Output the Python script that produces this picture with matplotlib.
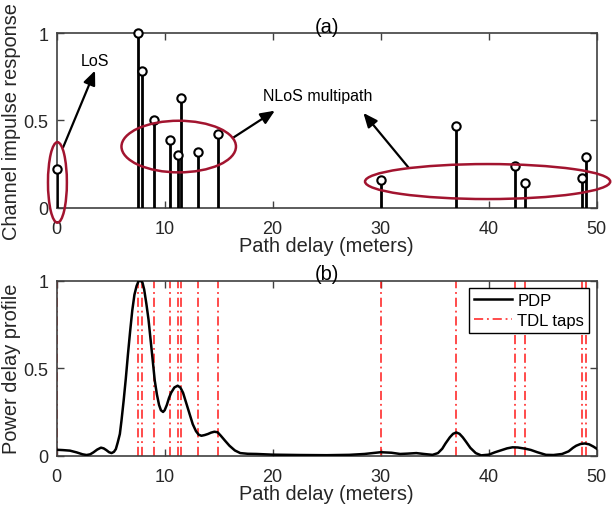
import numpy as np
import matplotlib
matplotlib.use("Agg")
import matplotlib.pyplot as plt
from matplotlib.patches import Ellipse

plt.rcParams['font.family'] = ['Liberation Sans', 'DejaVu Sans']
plt.rcParams['font.size'] = 13

# ---- data ----
tap_delay = [0.0, 7.5, 7.9, 9.05, 10.5, 11.2, 11.5, 13.1, 14.9,
             30.0, 37.0, 42.4, 43.4, 48.6, 49.0]
tap_amp = [0.22, 1.0, 0.78, 0.50, 0.39, 0.30, 0.63, 0.32, 0.42,
           0.16, 0.47, 0.24, 0.145, 0.17, 0.29]

pdp_delay = [0.0, 0.6, 1.23, 1.85, 2.4, 2.77, 3.1, 3.4, 3.75, 4.1, 4.35, 4.6, 4.85, 5.08,
             5.3, 5.48, 5.65, 5.85, 6.0, 6.2, 6.4, 6.6, 6.8, 7.0, 7.2, 7.4, 7.6, 7.8, 7.94,
             8.1, 8.3, 8.5, 8.7, 8.9, 9.08, 9.28, 9.48, 9.65, 9.85, 10.0, 10.2, 10.4, 10.6,
             10.9, 11.2, 11.45, 11.7, 12.0, 12.3, 12.6, 12.9, 13.15, 13.4, 13.7, 14.0, 14.3,
             14.6, 14.9, 15.2, 15.6, 16.0, 16.5, 17.0, 17.7, 18.5, 20.0, 22.5, 25.0, 27.1,
             28.5, 30.0, 31.0, 31.8, 32.5, 33.3, 34.0, 34.8, 35.3, 35.7, 36.0, 36.4, 36.7,
             37.0, 37.3, 37.6, 37.9, 38.3, 38.8, 39.3, 40.0, 40.6, 41.2, 41.7, 42.2, 42.7,
             43.1, 43.4, 43.9, 44.5, 45.3, 46.0, 46.8, 47.4, 47.8, 48.1, 48.5, 48.9, 49.3,
             49.7, 50.0]
pdp_val = [0.034, 0.032, 0.029, 0.019, 0.008, 0.004, 0.008, 0.019, 0.035, 0.046, 0.042,
           0.032, 0.020, 0.015, 0.022, 0.038, 0.075, 0.124, 0.20, 0.314, 0.44, 0.58, 0.71,
           0.83, 0.92, 0.97, 1.0, 0.998, 0.99, 0.95, 0.87, 0.78, 0.66, 0.54, 0.43, 0.35,
           0.29, 0.26, 0.25, 0.26, 0.29, 0.33, 0.36, 0.39, 0.40, 0.39, 0.36, 0.30, 0.24,
           0.18, 0.14, 0.12, 0.114, 0.118, 0.124, 0.132, 0.137, 0.134, 0.114, 0.085, 0.057,
           0.03, 0.015, 0.011, 0.010, 0.006, 0.004, 0.003, 0.005, 0.010, 0.020, 0.017,
           0.010, 0.012, 0.015, 0.010, 0.005, 0.015, 0.040, 0.070, 0.105, 0.125, 0.133,
           0.125, 0.105, 0.080, 0.045, 0.015, 0.002, 0.006, 0.020, 0.032, 0.042, 0.048,
           0.047, 0.043, 0.040, 0.033, 0.020, 0.005, 0.004, 0.010, 0.025, 0.045, 0.057,
           0.067, 0.070, 0.065, 0.052, 0.040]

xticks = [0, 10, 20, 30, 40, 50]
yticks = [0, 0.5, 1]
ytick_labels = ['0', '0.5', '1']

# ---- figure ----
fig = plt.figure(figsize=(6.12, 5.06), dpi=100)
ax1 = fig.add_axes([0.0926, 0.587, 0.8824, 0.3458])
ax2 = fig.add_axes([0.0926, 0.0974, 0.8824, 0.3459])

spine_c = '#404040'
text_c = '#262626'
ellipse_c = '#A2142F'
LABEL_FS = 14.4


def style(ax):
    ax.set_xlim(0, 50)
    ax.set_ylim(0, 1)
    ax.set_xticks(xticks)
    ax.set_yticks(yticks)
    ax.set_yticklabels(ytick_labels)
    ax.tick_params(direction='in', top=True, right=True, length=5, width=1,
                   color=spine_c, labelcolor=text_c, labelsize=13)
    ax.tick_params(axis='x', pad=9)
    ax.tick_params(axis='y', pad=6)
    for s in ax.spines.values():
        s.set_color(spine_c)
        s.set_linewidth(1.2)
    ax.set_xlabel('Path delay (meters)', color=text_c, fontsize=LABEL_FS, labelpad=-1)


# top: stems
ax1.vlines(tap_delay, 0, tap_amp, color='black', lw=2, zorder=3)
ax1.plot(tap_delay, tap_amp, 'o', mfc='white', mec='black', ms=6, mew=1.5,
         zorder=4, clip_on=False)
style(ax1)
ax1.set_ylabel('Channel impulse response', color=text_c, fontsize=LABEL_FS, labelpad=2)
ax1.set_title('(a)', fontsize=LABEL_FS, pad=1)

for (cx, cy, w, h) in [(0.07, 0.146, 1.75, 0.46), (11.3, 0.351, 10.6, 0.295),
                       (39.9, 0.151, 22.7, 0.2)]:
    e = Ellipse((cx, cy), w, h, fill=False, edgecolor=ellipse_c, lw=1.8,
                clip_on=False, zorder=5)
    ax1.add_patch(e)

arrow = dict(arrowstyle='-|>,head_length=0.65,head_width=0.28', color='black',
             lw=1.6, shrinkA=0, shrinkB=0)
ax1.annotate('', xy=(3.55, 0.785), xytext=(0.6, 0.347), arrowprops=arrow)
ax1.annotate('', xy=(20.2, 0.556), xytext=(16.3, 0.40), arrowprops=arrow)
ax1.annotate('', xy=(28.4, 0.543), xytext=(32.55, 0.233), arrowprops=arrow)
ax1.text(3.55, 0.84, 'LoS', ha='center', va='center', fontsize=11.5)
ax1.text(24.2, 0.64, 'NLoS multipath', ha='center', va='center', fontsize=11.5)

# bottom: PDP
ax2.plot(pdp_delay, pdp_val, color='black', lw=1.8, label='PDP', zorder=3)
for i, d in enumerate(tap_delay):
    ax2.axvline(d, color='#ff1a1a', lw=1.1, ls=(0, (6, 2.5, 1.2, 2.5)),
                label='TDL taps' if i == 0 else None, zorder=2)
style(ax2)
ax2.set_ylabel('Power delay profile', color=text_c, fontsize=LABEL_FS, labelpad=2)
ax2.set_title('(b)', fontsize=LABEL_FS, pad=1)
leg = ax2.legend(loc='upper right', fontsize=12, frameon=True, fancybox=False,
                 edgecolor='black', borderpad=0.3, handlelength=2.3,
                 handletextpad=0.3, borderaxespad=0.45,
                 labelspacing=0.3, framealpha=1)
leg.get_frame().set_linewidth(1.0)

fig.savefig('out.png', dpi=100)
